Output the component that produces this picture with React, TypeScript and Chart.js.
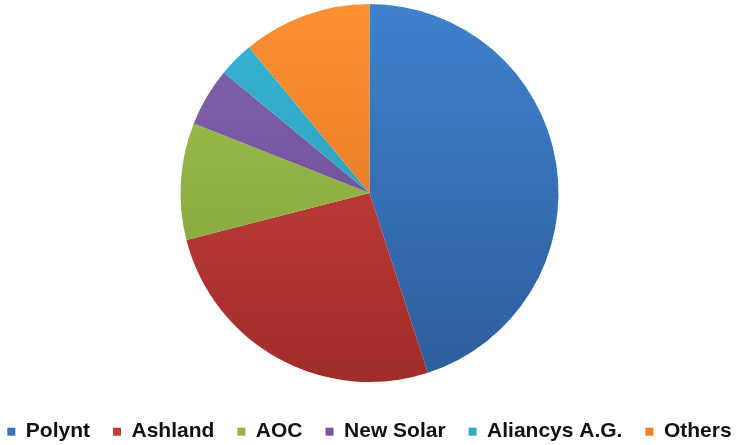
import React, { useEffect, useRef } from "react";
import { Chart, registerables } from "chart.js";

Chart.register(...registerables);

const categories = ["Polynt", "Ashland", "AOC", "New Solar", "Aliancys A.G.", "Others"];
const shares = [45, 26, 10, 5, 3, 11];
const topColors = ["#3f81cd", "#d4443f", "#a0c34d", "#8564b1", "#37b5d5", "#fc9032"];
const bottomColors = ["#2d5d9b", "#a02d2a", "#7f9e3b", "#604687", "#2a93ae", "#d9711f"];
const legendColors = ["#3a74bd", "#c83a37", "#93b545", "#7657a0", "#31a7c5", "#f0832a"];

export default function App() {
  const ref = useRef<HTMLCanvasElement | null>(null);

  useEffect(() => {
    if (!ref.current) return;
    const chart = new Chart(ref.current, {
      type: "pie",
      data: {
        labels: categories,
        datasets: [
          {
            data: shares,
            borderWidth: 0,
            backgroundColor: (ctx: any) => {
              const c = ctx.chart;
              const area = c.chartArea;
              const i = ctx.dataIndex ?? 0;
              if (!area) return legendColors[i];
              const g = c.ctx.createLinearGradient(0, area.top, 0, area.bottom);
              g.addColorStop(0, topColors[i]);
              g.addColorStop(1, bottomColors[i]);
              return g;
            },
          },
        ],
      },
      options: {
        responsive: false,
        animation: false,
        layout: { padding: { top: 4, bottom: 0, left: 0, right: 0 } },
        plugins: {
          tooltip: { enabled: false },
          legend: {
            display: true,
            position: "bottom",
            maxHeight: 63,
            title: {
              display: true,
              text: "",
              font: { size: 1, lineHeight: 1.2 },
              padding: { top: 15, bottom: 0 },
            },
            labels: {
              boxWidth: 8,
              boxHeight: 8,
              padding: 23,
              color: "#111111",
              font: { family: "'Liberation Sans', Arial, sans-serif", size: 21, weight: "bold" },
              generateLabels: (c: any) => {
                const base = (Chart as any).overrides.pie.plugins.legend.labels.generateLabels(c);
                return base.map((it: any, i: number) => ({
                  ...it,
                  fillStyle: legendColors[i],
                  strokeStyle: legendColors[i],
                  lineWidth: 0,
                }));
              },
            },
          },
        },
      },
    });
    return () => chart.destroy();
  }, []);

  return (
    <div style={{ position: "fixed", left: -20, top: 0, width: 779, height: 445, background: "#ffffff" }}>
      <canvas ref={ref} width={779} height={445} style={{ display: "block" }} />
    </div>
  );
}
